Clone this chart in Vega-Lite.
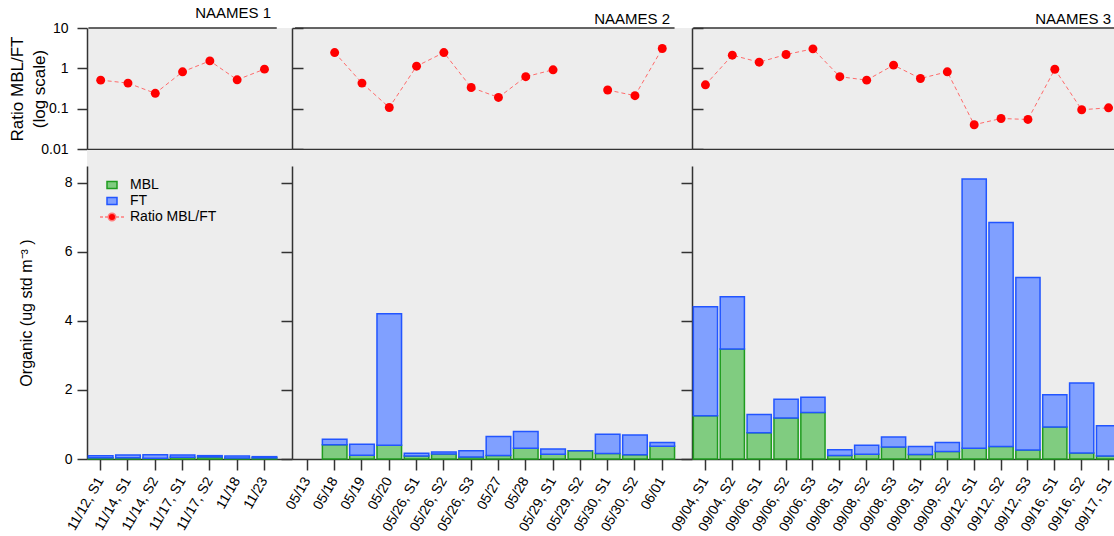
{
  "$schema": "https://vega.github.io/schema/vega-lite/v6.json",
  "background": "white",
  "padding": {"left": 8, "top": 6, "right": 0, "bottom": 0},
  "bounds": "flush",
  "config": {
    "font": "Liberation Sans",
    "view": {"fill": "#ededed", "stroke": null},
    "scale": {"round": false},
    "axis": {
      "grid": false,
      "domainColor": "#333333",
      "domainWidth": 1.5,
      "tickColor": "#333333",
      "tickWidth": 1.5,
      "labelColor": "#000000",
      "labelFontSize": 14,
      "titleColor": "#000000",
      "titleFontWeight": "normal"
    },
    "legend": {"labelColor": "#000000", "labelFontSize": 14}
  },
  "datasets": {
    "samples": [
      {"campaign": "NAAMES 1", "sample": "11/12, S1", "MBL": 0.033, "FT": 0.064, "ratio": 0.51},
      {"campaign": "NAAMES 1", "sample": "11/14, S1", "MBL": 0.035, "FT": 0.081, "ratio": 0.43},
      {"campaign": "NAAMES 1", "sample": "11/14, S2", "MBL": 0.024, "FT": 0.101, "ratio": 0.24},
      {"campaign": "NAAMES 1", "sample": "11/17, S1", "MBL": 0.052, "FT": 0.064, "ratio": 0.82},
      {"campaign": "NAAMES 1", "sample": "11/17, S2", "MBL": 0.059, "FT": 0.038, "ratio": 1.53},
      {"campaign": "NAAMES 1", "sample": "11/18", "MBL": 0.030, "FT": 0.057, "ratio": 0.52},
      {"campaign": "NAAMES 1", "sample": "11/23", "MBL": 0.033, "FT": 0.035, "ratio": 0.955},
      {"campaign": "NAAMES 2", "sample": "05/13", "MBL": null, "FT": null, "ratio": null},
      {"campaign": "NAAMES 2", "sample": "05/18", "MBL": 0.41, "FT": 0.16, "ratio": 2.46},
      {"campaign": "NAAMES 2", "sample": "05/19", "MBL": 0.11, "FT": 0.32, "ratio": 0.43},
      {"campaign": "NAAMES 2", "sample": "05/20", "MBL": 0.40, "FT": 3.81, "ratio": 0.107},
      {"campaign": "NAAMES 2", "sample": "05/26, S1", "MBL": 0.09, "FT": 0.08, "ratio": 1.13},
      {"campaign": "NAAMES 2", "sample": "05/26, S2", "MBL": 0.145, "FT": 0.06, "ratio": 2.46},
      {"campaign": "NAAMES 2", "sample": "05/26, S3", "MBL": 0.06, "FT": 0.18, "ratio": 0.335},
      {"campaign": "NAAMES 2", "sample": "05/27", "MBL": 0.10, "FT": 0.55, "ratio": 0.19},
      {"campaign": "NAAMES 2", "sample": "05/28", "MBL": 0.31, "FT": 0.49, "ratio": 0.62},
      {"campaign": "NAAMES 2", "sample": "05/29, S1", "MBL": 0.14, "FT": 0.15, "ratio": 0.92},
      {"campaign": "NAAMES 2", "sample": "05/29, S2", "MBL": 0.24, "FT": 0, "ratio": null},
      {"campaign": "NAAMES 2", "sample": "05/30, S1", "MBL": 0.16, "FT": 0.555, "ratio": 0.29},
      {"campaign": "NAAMES 2", "sample": "05/30, S2", "MBL": 0.12, "FT": 0.575, "ratio": 0.21},
      {"campaign": "NAAMES 2", "sample": "06/01", "MBL": 0.37, "FT": 0.11, "ratio": 3.1},
      {"campaign": "NAAMES 3", "sample": "09/04, S1", "MBL": 1.25, "FT": 3.16, "ratio": 0.39},
      {"campaign": "NAAMES 3", "sample": "09/04, S2", "MBL": 3.19, "FT": 1.51, "ratio": 2.12},
      {"campaign": "NAAMES 3", "sample": "09/06, S1", "MBL": 0.76, "FT": 0.53, "ratio": 1.42},
      {"campaign": "NAAMES 3", "sample": "09/06, S2", "MBL": 1.19, "FT": 0.54, "ratio": 2.2},
      {"campaign": "NAAMES 3", "sample": "09/06, S3", "MBL": 1.35, "FT": 0.44, "ratio": 3.04},
      {"campaign": "NAAMES 3", "sample": "09/08, S1", "MBL": 0.10, "FT": 0.17, "ratio": 0.62},
      {"campaign": "NAAMES 3", "sample": "09/08, S2", "MBL": 0.135, "FT": 0.265, "ratio": 0.51},
      {"campaign": "NAAMES 3", "sample": "09/08, S3", "MBL": 0.345, "FT": 0.29, "ratio": 1.2},
      {"campaign": "NAAMES 3", "sample": "09/09, S1", "MBL": 0.13, "FT": 0.235, "ratio": 0.56},
      {"campaign": "NAAMES 3", "sample": "09/09, S2", "MBL": 0.215, "FT": 0.265, "ratio": 0.82},
      {"campaign": "NAAMES 3", "sample": "09/12, S1", "MBL": 0.31, "FT": 7.8, "ratio": 0.04},
      {"campaign": "NAAMES 3", "sample": "09/12, S2", "MBL": 0.36, "FT": 6.49, "ratio": 0.057},
      {"campaign": "NAAMES 3", "sample": "09/12, S3", "MBL": 0.26, "FT": 5.0, "ratio": 0.054},
      {"campaign": "NAAMES 3", "sample": "09/16, S1", "MBL": 0.93, "FT": 0.935, "ratio": 0.95},
      {"campaign": "NAAMES 3", "sample": "09/16, S2", "MBL": 0.175, "FT": 2.025, "ratio": 0.094},
      {"campaign": "NAAMES 3", "sample": "09/17, S1", "MBL": 0.09, "FT": 0.875, "ratio": 0.105}
    ]
  },
  "columns": 3,
  "spacing": {"row": 1, "column": 0},
  "resolve": {
    "scale": {"x": "independent", "y": "independent", "fill": "independent", "stroke": "independent"},
    "axis": {"x": "independent", "y": "independent"},
    "legend": {"fill": "independent", "stroke": "independent"}
  },
  "concat": [
    {
      "width": 205, "height": 121,
      "title": {"text": "NAAMES 1", "anchor": "end", "dx": -21, "offset": -12, "baseline": "alphabetic", "fontSize": 15, "fontWeight": "normal", "color": "#000000"},
      "layer": [
        {
          "data": {"values": [{}]},
          "mark": {"type": "rule", "color": "#333333", "strokeWidth": 1.5},
          "encoding": {
            "x": {"datum": "11/12, S1", "type": "nominal", "bandPosition": 0},
            "x2": {"datum": "11/23", "bandPosition": 1},
            "y": {"datum": 10, "type": "quantitative"}
          }
        },
        {
          "data": {"name": "samples"},
          "transform": [{"filter": "datum.campaign === 'NAAMES 1'"}],
          "mark": {"type": "line", "color": "#ff6b6b", "strokeWidth": 1, "strokeDash": [4, 3], "invalid": "break-paths-filter-domains"},
          "encoding": {
            "x": {"field": "sample", "type": "nominal",
                  "scale": {"domain": ["11/12, S1", "11/14, S1", "11/14, S2", "11/17, S1", "11/17, S2", "11/18", "11/23"], "paddingInner": 0.1, "paddingOuter": 0.305, "align": 0.084},
                  "axis": {"title": null, "labels": false, "ticks": false}},
            "y": {"field": "ratio", "type": "quantitative",
                  "scale": {"type": "log", "domain": [0.01, 10], "nice": false},
                  "axis": {"title": ["Ratio MBL/FT", "(log scale)"], "titleFontSize": 17, "titleLineHeight": 22, "titlePadding": -8, "values": [0.01, 0.1, 1, 10], "format": "~g", "tickSize": 10, "labelPadding": 9}}
          }
        },
        {
          "data": {"name": "samples"},
          "transform": [{"filter": "datum.campaign === 'NAAMES 1'"}],
          "mark": {"type": "point", "filled": true, "color": "#ff0000", "size": 80, "opacity": 1},
          "encoding": {
            "x": {"field": "sample", "type": "nominal"},
            "y": {"field": "ratio", "type": "quantitative"}
          }
        }
      ]
    },
    {
      "width": 400, "height": 121,
      "title": {"text": "NAAMES 2", "anchor": "end", "dx": -22, "offset": -12, "baseline": "alphabetic", "fontSize": 15, "fontWeight": "normal", "color": "#000000"},
      "layer": [
        {
          "data": {"values": [{}]},
          "mark": {"type": "rule", "color": "#333333", "strokeWidth": 1.5},
          "encoding": {
            "x": {"datum": "05/13", "type": "nominal", "bandPosition": 0},
            "x2": {"datum": "06/01", "bandPosition": 1},
            "y": {"datum": 10, "type": "quantitative"}
          }
        },
        {
          "data": {"name": "samples"},
          "transform": [{"filter": "datum.campaign === 'NAAMES 2'"}],
          "mark": {"type": "line", "color": "#ff6b6b", "strokeWidth": 1, "strokeDash": [4, 3], "invalid": "break-paths-filter-domains"},
          "encoding": {
            "x": {"field": "sample", "type": "nominal",
                  "scale": {"domain": ["05/13", "05/18", "05/19", "05/20", "05/26, S1", "05/26, S2", "05/26, S3", "05/27", "05/28", "05/29, S1", "05/29, S2", "05/30, S1", "05/30, S2", "06/01"], "paddingInner": 0.1, "paddingOuter": 0.376, "align": 0.15},
                  "axis": {"title": null, "labels": false, "ticks": false}},
            "y": {"field": "ratio", "type": "quantitative",
                  "scale": {"type": "log", "domain": [0.01, 10], "nice": false},
                  "axis": {"title": null, "labels": false, "values": [0.01, 0.1, 1, 10], "tickSize": -11}}
          }
        },
        {
          "data": {"name": "samples"},
          "transform": [{"filter": "datum.campaign === 'NAAMES 2'"}],
          "mark": {"type": "point", "filled": true, "color": "#ff0000", "size": 80, "opacity": 1},
          "encoding": {
            "x": {"field": "sample", "type": "nominal"},
            "y": {"field": "ratio", "type": "quantitative"}
          }
        }
      ]
    },
    {
      "width": 430, "height": 121,
      "title": {"text": "NAAMES 3", "anchor": "end", "dx": -11, "offset": -12, "baseline": "alphabetic", "fontSize": 15, "fontWeight": "normal", "color": "#000000"},
      "layer": [
        {
          "data": {"values": [{}]},
          "mark": {"type": "rule", "color": "#333333", "strokeWidth": 1.5},
          "encoding": {
            "x": {"datum": "09/04, S1", "type": "nominal", "bandPosition": 0},
            "x2": {"datum": "09/17, S1", "bandPosition": 1},
            "y": {"datum": 10, "type": "quantitative"}
          }
        },
        {
          "data": {"name": "samples"},
          "transform": [{"filter": "datum.campaign === 'NAAMES 3'"}],
          "mark": {"type": "line", "color": "#ff6b6b", "strokeWidth": 1, "strokeDash": [4, 3], "invalid": "break-paths-filter-domains"},
          "encoding": {
            "x": {"field": "sample", "type": "nominal",
                  "scale": {"domain": ["09/04, S1", "09/04, S2", "09/06, S1", "09/06, S2", "09/06, S3", "09/08, S1", "09/08, S2", "09/08, S3", "09/09, S1", "09/09, S2", "09/12, S1", "09/12, S2", "09/12, S3", "09/16, S1", "09/16, S2", "09/17, S1"], "paddingInner": 0.1, "paddingOuter": 0.05},
                  "axis": {"title": null, "labels": false, "ticks": false}},
            "y": {"field": "ratio", "type": "quantitative",
                  "scale": {"type": "log", "domain": [0.01, 10], "nice": false},
                  "axis": {"title": null, "labels": false, "values": [0.01, 0.1, 1, 10], "tickSize": -11}}
          }
        },
        {
          "data": {"name": "samples"},
          "transform": [{"filter": "datum.campaign === 'NAAMES 3'"}],
          "mark": {"type": "point", "filled": true, "color": "#ff0000", "size": 80, "opacity": 1},
          "encoding": {
            "x": {"field": "sample", "type": "nominal"},
            "y": {"field": "ratio", "type": "quantitative"}
          }
        }
      ]
    },
    {
      "width": 205, "height": 309,
      "data": {"name": "samples"},
      "transform": [{"filter": "datum.campaign === 'NAAMES 1'"}, {"fold": ["MBL", "FT"], "as": ["layer", "value"]}],
      "mark": {"type": "bar", "strokeWidth": 1.5},
      "encoding": {
        "x": {"field": "sample", "type": "nominal",
              "scale": {"domain": ["11/12, S1", "11/14, S1", "11/14, S2", "11/17, S1", "11/17, S2", "11/18", "11/23"], "paddingInner": 0.1, "paddingOuter": 0.305, "align": 0.084},
              "axis": {"title": null, "labelAngle": -60, "labelAlign": "right", "labelBaseline": "middle", "tickSize": 11, "labelPadding": 8}},
        "y": {"field": "value", "type": "quantitative", "stack": "zero",
              "scale": {"domain": [0, 8.49], "range": [309, 16], "nice": false, "zero": true},
              "axis": {"title": "Organic (ug std m⁻³ )", "titleFontSize": 16, "titlePadding": 30, "values": [0, 2, 4, 6, 8], "tickSize": 10, "labelPadding": 5}},
        "fill": {"field": "layer", "type": "nominal",
                 "scale": {"domain": ["MBL", "FT", "Ratio MBL/FT"], "range": ["#80cc80", "#80a0ff", "#ff0000"]},
                 "legend": {"title": null, "orient": "none", "legendX": 18, "legendY": 28, "symbolSize": 100, "symbolStrokeWidth": 1.5, "labelOffset": 11, "rowPadding": 2,
                            "encode": {"symbols": {"update": {"shape": {"signal": "datum.value === 'Ratio MBL/FT' ? 'M-2.4,0H-1.8M-1.4,0H-0.8M0.8,0H1.4M1.8,0H2.4M-0.75,0A0.75,0.75,0,1,0,0.75,0A0.75,0.75,0,1,0,-0.75,0Z' : 'M-1,-0.7H1V0.7H-1Z'"}}}}}},
        "stroke": {"field": "layer", "type": "nominal",
                   "scale": {"domain": ["MBL", "FT", "Ratio MBL/FT"], "range": ["#1f9c1f", "#2255ff", "#ff7b7b"]}},
        "order": {"field": "layer", "sort": "descending"}
      }
    },
    {
      "width": 400, "height": 309,
      "data": {"name": "samples"},
      "transform": [{"filter": "datum.campaign === 'NAAMES 2'"}, {"fold": ["MBL", "FT"], "as": ["layer", "value"]}],
      "mark": {"type": "bar", "strokeWidth": 1.5},
      "encoding": {
        "x": {"field": "sample", "type": "nominal",
              "scale": {"domain": ["05/13", "05/18", "05/19", "05/20", "05/26, S1", "05/26, S2", "05/26, S3", "05/27", "05/28", "05/29, S1", "05/29, S2", "05/30, S1", "05/30, S2", "06/01"], "paddingInner": 0.1, "paddingOuter": 0.376, "align": 0.15},
              "axis": {"title": null, "labelAngle": -60, "labelAlign": "right", "labelBaseline": "middle", "tickSize": 11, "labelPadding": 8}},
        "y": {"field": "value", "type": "quantitative", "stack": "zero",
              "scale": {"domain": [0, 8.49], "range": [309, 16], "nice": false, "zero": true},
              "axis": {"title": null, "labels": false, "values": [0, 2, 4, 6, 8], "tickSize": 11}},
        "fill": {"field": "layer", "type": "nominal",
                 "scale": {"domain": ["MBL", "FT"], "range": ["#80cc80", "#80a0ff"]}, "legend": null},
        "stroke": {"field": "layer", "type": "nominal",
                   "scale": {"domain": ["MBL", "FT"], "range": ["#1f9c1f", "#2255ff"]}, "legend": null},
        "order": {"field": "layer", "sort": "descending"}
      }
    },
    {
      "width": 430, "height": 309,
      "data": {"name": "samples"},
      "transform": [{"filter": "datum.campaign === 'NAAMES 3'"}, {"fold": ["MBL", "FT"], "as": ["layer", "value"]}],
      "mark": {"type": "bar", "strokeWidth": 1.5},
      "encoding": {
        "x": {"field": "sample", "type": "nominal",
              "scale": {"domain": ["09/04, S1", "09/04, S2", "09/06, S1", "09/06, S2", "09/06, S3", "09/08, S1", "09/08, S2", "09/08, S3", "09/09, S1", "09/09, S2", "09/12, S1", "09/12, S2", "09/12, S3", "09/16, S1", "09/16, S2", "09/17, S1"], "paddingInner": 0.1, "paddingOuter": 0.05},
              "axis": {"title": null, "labelAngle": -60, "labelAlign": "right", "labelBaseline": "middle", "tickSize": 11, "labelPadding": 8}},
        "y": {"field": "value", "type": "quantitative", "stack": "zero",
              "scale": {"domain": [0, 8.49], "range": [309, 16], "nice": false, "zero": true},
              "axis": {"title": null, "labels": false, "values": [0, 2, 4, 6, 8], "tickSize": 11}},
        "fill": {"field": "layer", "type": "nominal",
                 "scale": {"domain": ["MBL", "FT"], "range": ["#80cc80", "#80a0ff"]}, "legend": null},
        "stroke": {"field": "layer", "type": "nominal",
                   "scale": {"domain": ["MBL", "FT"], "range": ["#1f9c1f", "#2255ff"]}, "legend": null},
        "order": {"field": "layer", "sort": "descending"}
      }
    }
  ]
}
